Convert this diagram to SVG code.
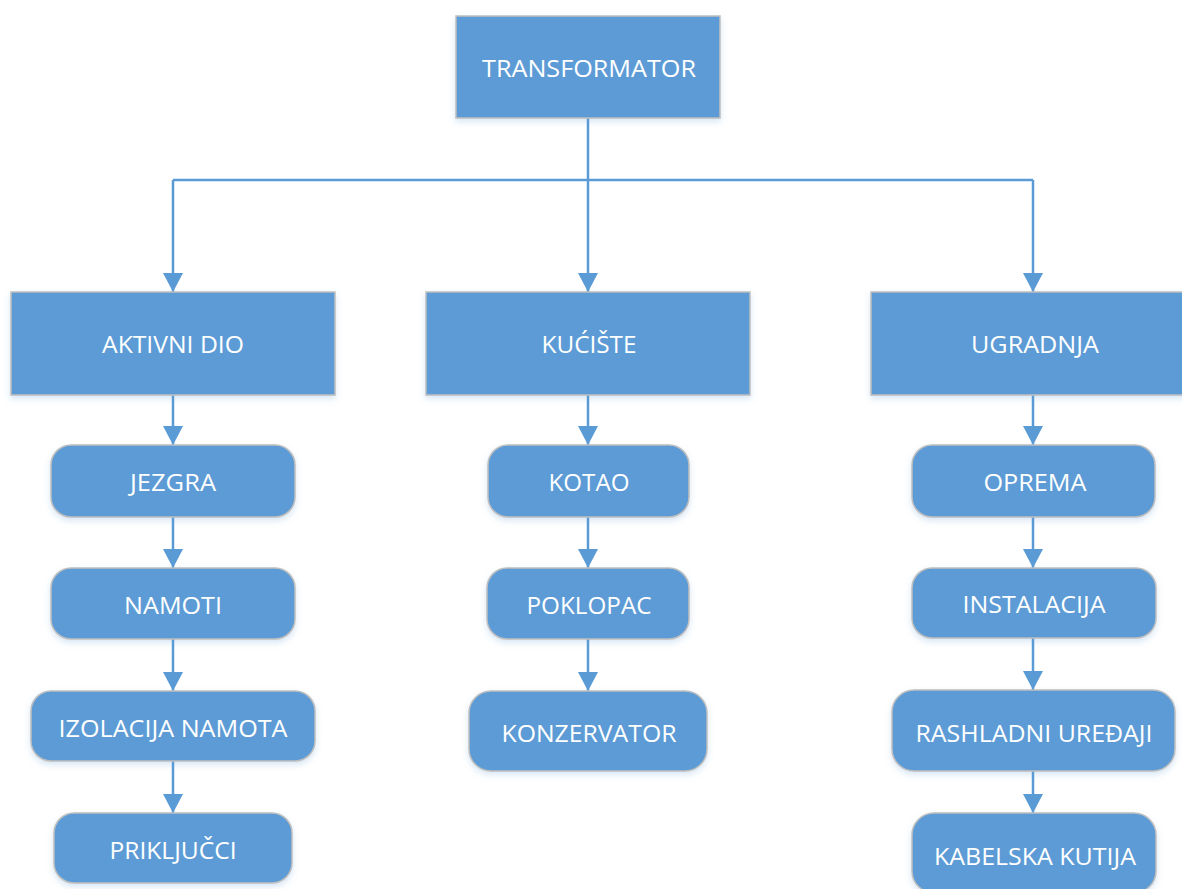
<svg xmlns="http://www.w3.org/2000/svg" width="1182" height="889" viewBox="0 0 1182 889">
<defs>
<filter id="sh" x="-10%" y="-20%" width="120%" height="150%">
<feDropShadow dx="0" dy="3" stdDeviation="3" flood-color="#5B9BD5" flood-opacity="0.25"/>
</filter>
<marker id="ar" markerUnits="userSpaceOnUse" markerWidth="22" markerHeight="20" refX="19" refY="10" orient="auto">
<path d="M0,0 L19,10 L0,20 Z" fill="#5B9BD5"/>
</marker>
</defs>
<style>
.b{fill:#5B9BD5;stroke:#BFBFBF;stroke-width:1.5;filter:url(#sh)}
.t{fill:#FFFFFF;font-family:"Open Sans","Liberation Sans",sans-serif;font-size:24px;text-anchor:middle}
.c{fill:none;stroke:#5B9BD5;stroke-width:2.5}
.a{marker-end:url(#ar)}
</style>
<rect width="1182" height="889" fill="#FFFFFF"/>
<g id="connectors">
<path class="c" d="M588,118 V180 M173,180 H1033"/>
<path class="c a" d="M173,180 V292"/>
<path class="c a" d="M588,180 V292"/>
<path class="c a" d="M1033,180 V292"/>
<path class="c a" d="M173,395 V445"/>
<path class="c a" d="M173,517 V568"/>
<path class="c a" d="M173,639 V691"/>
<path class="c a" d="M173,761 V813"/>
<path class="c a" d="M588,395 V445"/>
<path class="c a" d="M588,517 V568"/>
<path class="c a" d="M588,639 V691"/>
<path class="c a" d="M1033,395 V445"/>
<path class="c a" d="M1033,517 V568"/>
<path class="c a" d="M1033,638 V690"/>
<path class="c a" d="M1033,771 V813"/>
</g>
<g id="transformator"><rect class="b" x="456" y="16" width="264" height="102"/><text class="t" x="589" y="77" textLength="214" lengthAdjust="spacingAndGlyphs">TRANSFORMATOR</text></g>
<g id="aktivni-dio"><rect class="b" x="11" y="292" width="324" height="103"/><text class="t" x="173" y="353" textLength="142" lengthAdjust="spacingAndGlyphs">AKTIVNI DIO</text></g>
<g id="kuciste"><rect class="b" x="426" y="292" width="324" height="103"/><text class="t" x="589" y="353" textLength="95" lengthAdjust="spacingAndGlyphs">KUĆIŠTE</text></g>
<g id="ugradnja"><rect class="b" x="871" y="292" width="324" height="103"/><text class="t" x="1035" y="353" textLength="128" lengthAdjust="spacingAndGlyphs">UGRADNJA</text></g>
<g id="jezgra"><rect class="b" x="51" y="445" width="244" height="72" rx="20"/><text class="t" x="173" y="491" textLength="86" lengthAdjust="spacingAndGlyphs">JEZGRA</text></g>
<g id="namoti"><rect class="b" x="51" y="568" width="244" height="71" rx="20"/><text class="t" x="173" y="614" textLength="98" lengthAdjust="spacingAndGlyphs">NAMOTI</text></g>
<g id="izolacija-namota"><rect class="b" x="31" y="691" width="284" height="70" rx="20"/><text class="t" x="173" y="737" textLength="229" lengthAdjust="spacingAndGlyphs">IZOLACIJA NAMOTA</text></g>
<g id="prikljucci"><rect class="b" x="54" y="813" width="238" height="70" rx="20"/><text class="t" x="173" y="859" textLength="127" lengthAdjust="spacingAndGlyphs">PRIKLJUČCI</text></g>
<g id="kotao"><rect class="b" x="488" y="445" width="201" height="72" rx="20"/><text class="t" x="589" y="491" textLength="81" lengthAdjust="spacingAndGlyphs">KOTAO</text></g>
<g id="poklopac"><rect class="b" x="487" y="568" width="202" height="71" rx="20"/><text class="t" x="589" y="614" textLength="125" lengthAdjust="spacingAndGlyphs">POKLOPAC</text></g>
<g id="konzervator"><rect class="b" x="469" y="691" width="238" height="80" rx="22"/><text class="t" x="589" y="742" textLength="175" lengthAdjust="spacingAndGlyphs">KONZERVATOR</text></g>
<g id="oprema"><rect class="b" x="912" y="445" width="243" height="72" rx="20"/><text class="t" x="1035" y="491" textLength="103" lengthAdjust="spacingAndGlyphs">OPREMA</text></g>
<g id="instalacija"><rect class="b" x="912" y="568" width="244" height="70" rx="20"/><text class="t" x="1034" y="613" textLength="143" lengthAdjust="spacingAndGlyphs">INSTALACIJA</text></g>
<g id="rashladni-uredjaji"><rect class="b" x="892" y="690" width="283" height="81" rx="22"/><text class="t" x="1034" y="742" textLength="237" lengthAdjust="spacingAndGlyphs">RASHLADNI UREĐAJI</text></g>
<g id="kabelska-kutija"><rect class="b" x="912" y="813" width="244" height="80" rx="22"/><text class="t" x="1035" y="865" textLength="202" lengthAdjust="spacingAndGlyphs">KABELSKA KUTIJA</text></g>
</svg>
